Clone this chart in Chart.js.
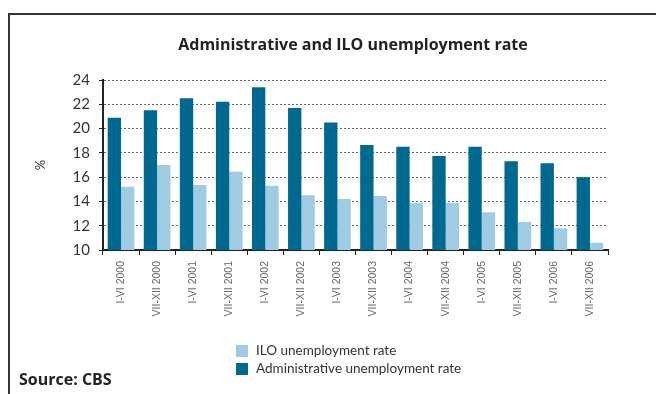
<!DOCTYPE html>
<html>
<head>
<meta charset="utf-8">
<script src="https://cdn.jsdelivr.net/npm/chart.js@4/dist/chart.umd.min.js"></script>
<style>
  html, body { margin: 0; padding: 0; background: #ffffff; }
  #wrap { width: 656px; height: 394px; }
</style>
</head>
<body>
<div id="wrap"><canvas id="chart" width="656" height="394"></canvas></div>
<script>
// Half-year periods
const periods = [
  'I-VI 2000', 'VII-XII 2000', 'I-VI 2001', 'VII-XII 2001', 'I-VI 2002', 'VII-XII 2002',
  'I-VI 2003', 'VII-XII 2003', 'I-VI 2004', 'VII-XII 2004', 'I-VI 2005', 'VII-XII 2005',
  'I-VI 2006', 'VII-XII 2006'
];

// Registered (administrative) unemployment rate, %
const administrativeRate = [20.9, 21.5, 22.5, 22.2, 23.4, 21.7, 20.5, 18.65, 18.5, 17.75, 18.5, 17.3, 17.15, 16.0];

// Labour force survey (ILO) unemployment rate, %
const iloRate = [15.2, 17.0, 15.35, 16.45, 15.3, 14.5, 14.2, 14.45, 13.9, 13.9, 13.1, 12.3, 11.8, 10.6];

const yTicks = [10, 12, 14, 16, 18, 20, 22, 24];

const titleText = 'Administrative and ILO unemployment rate';
const sourceText = 'Source: CBS';

const DARK = '#00698f';
const LIGHT = '#9fcce2';
const TEXT = '#333333';

// Frame, heading, legend and source note
const decorations = {
  id: 'decorations',
  afterDraw(chart) {
    const ctx = chart.ctx;
    ctx.save();
    // frame
    ctx.strokeStyle = '#333333';
    ctx.lineWidth = 2;
    ctx.beginPath();
    ctx.moveTo(9, 400);
    ctx.lineTo(9, 14);
    ctx.lineTo(660, 14);
    ctx.stroke();

    // heading
    ctx.fillStyle = '#222222';
    ctx.font = 'bold 16px "Open Sans"';
    ctx.textAlign = 'center';
    ctx.textBaseline = 'middle';
    ctx.fillText(titleText, 353, 45);

    // legend (ILO first)
    const items = [chart.data.datasets[1], chart.data.datasets[0]];
    ctx.font = '13.5px Lato';
    ctx.textAlign = 'left';
    items.forEach((ds, i) => {
      const y = 351 + i * 18;
      ctx.fillStyle = ds.backgroundColor;
      ctx.fillRect(236, y - 6, 12, 12);
      ctx.fillStyle = TEXT;
      ctx.fillText(ds.label, 256, y);
    });

    // source
    ctx.fillStyle = '#222222';
    ctx.font = 'bold 16px "Open Sans"';
    ctx.textBaseline = 'alphabetic';
    ctx.fillText(sourceText, 19, 385);
    ctx.restore();
  }
};

new Chart(document.getElementById('chart'), {
  type: 'bar',
  data: {
    labels: periods,
    datasets: [
      {
        label: 'Administrative unemployment rate',
        data: administrativeRate,
        backgroundColor: DARK,
        categoryPercentage: 0.74,
        barPercentage: 1.0
      },
      {
        label: 'ILO unemployment rate',
        data: iloRate,
        backgroundColor: LIGHT,
        categoryPercentage: 0.74,
        barPercentage: 1.0
      }
    ]
  },
  options: {
    responsive: false,
    animation: false,
    layout: { padding: { top: 80, right: 48, left: 0, bottom: 0 } },
    plugins: {
      legend: { display: false },
      title: { display: false },
      tooltip: { enabled: false }
    },
    scales: {
      x: {
        grid: {
          display: true,
          offset: true,
          drawOnChartArea: false,
          drawTicks: true,
          tickLength: 5,
          tickColor: '#222222',
          tickWidth: 1
        },
        border: { display: true, color: '#222222', width: 2 },
        ticks: {
          autoSkip: false,
          minRotation: 90,
          maxRotation: 90,
          padding: 6,
          color: '#666666',
          font: { family: 'Liberation Sans', size: 10.5 }
        },
        afterFit(scale) { scale.height = 144; }
      },
      y: {
        min: 10,
        max: 24,
        afterBuildTicks(scale) { scale.ticks = yTicks.map(v => ({ value: v })); },
        grid: {
          color: '#666666',
          lineWidth: 1,
          drawTicks: true,
          tickLength: 4,
          tickColor: '#222222',
          tickWidth: 1,
          tickBorderDash: []
        },
        border: { display: true, color: '#222222', width: 2, dash: [2, 2] },
        ticks: {
          padding: 9,
          color: TEXT,
          font: { family: 'Lato', size: 15 }
        },
        title: {
          display: true,
          text: '%',
          color: TEXT,
          font: { family: 'Lato', size: 13 },
          padding: { top: 33, bottom: 0 }
        },
        afterFit(scale) { scale.width = 103; }
      }
    }
  },
  plugins: [decorations]
});
</script>
</body>
</html>
